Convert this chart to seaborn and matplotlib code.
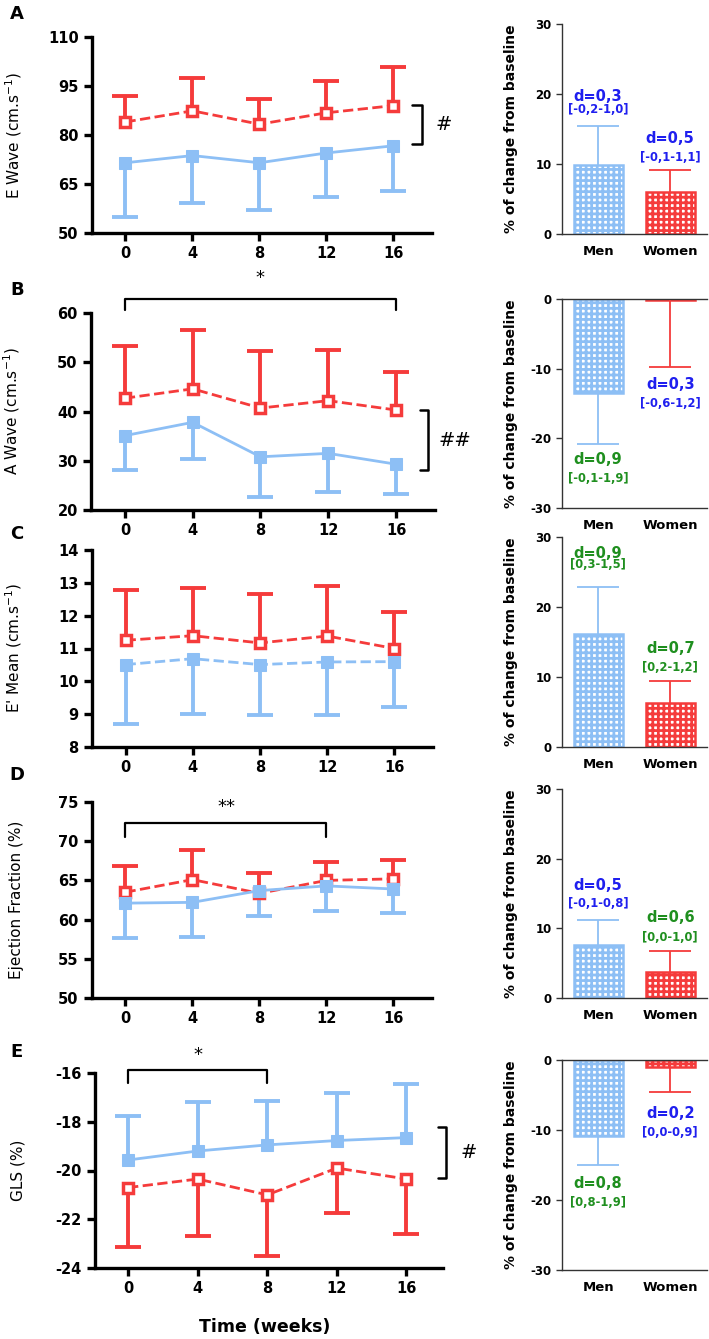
import matplotlib
matplotlib.use('Agg')
import matplotlib.pyplot as plt
import seaborn as sns
import numpy as np

sns.set_style('ticks')
plt.rcParams['font.family'] = ['DejaVu Sans']
plt.rcParams['hatch.linewidth'] = 2.0
plt.rcParams['axes.unicode_minus'] = False
for k in ['text.color', 'axes.labelcolor', 'xtick.color', 'ytick.color']:
    plt.rcParams[k] = 'black'

BLUE = '#8dbff5'
RED = '#f53b3b'
TXT_BLUE = '#1f1fef'
TXT_GREEN = '#1f8f1f'

weeks = [0, 4, 8, 12, 16]
groups = ['Men', 'Women']

# A - E wave
ew_men = [71.5, 73.7, 71.5, 74.5, 76.7]
ew_men_sd = [16.7, 14.6, 14.4, 13.6, 13.8]
ew_women = [84.0, 87.4, 83.3, 86.8, 89.0]
ew_women_sd = [8.0, 10.2, 7.7, 9.8, 11.7]
# B - A wave
aw_men = [35.1, 37.8, 30.8, 31.5, 29.3]
aw_men_sd = [7.0, 7.5, 8.2, 7.9, 6.1]
aw_women = [42.7, 44.6, 40.7, 42.2, 40.3]
aw_women_sd = [10.5, 12.0, 11.5, 10.3, 7.8]
# C - E' mean
em_men = [10.51, 10.69, 10.51, 10.59, 10.6]
em_men_sd = [1.82, 1.69, 1.54, 1.62, 1.38]
em_women = [11.25, 11.39, 11.17, 11.38, 11.0]
em_women_sd = [1.53, 1.44, 1.48, 1.53, 1.12]
# D - ejection fraction
ef_men = [62.1, 62.2, 63.7, 64.3, 63.9]
ef_men_sd = [4.5, 4.4, 3.2, 3.2, 3.0]
ef_women = [63.5, 65.1, 63.35, 65.0, 65.2]
ef_women_sd = [3.3, 3.8, 2.55, 2.3, 2.4]
# E - GLS
gls_men = [-19.57, -19.2, -18.95, -18.77, -18.65]
gls_men_sd = [1.79, 2.0, 1.81, 1.95, 2.2]
gls_women = [-20.7, -20.35, -21.0, -19.9, -20.35]
gls_women_sd = [2.43, 2.35, 2.52, 1.86, 2.25]

# % change from baseline (Men, Women)
chg_ew = [9.9, 5.95]
chg_ew_err = [5.5, 3.15]
chg_aw = [-13.5, -0.2]
chg_aw_err = [7.3, 9.5]
chg_em = [16.1, 6.3]
chg_em_err = [6.7, 3.2]
chg_ef = [7.65, 3.7]
chg_ef_err = [3.5, 3.1]
chg_gls = [-10.9, -0.95]
chg_gls_err = [4.1, 3.55]

W, H = 709, 1339
fig = plt.figure(figsize=(W / 100, H / 100), dpi=100)


def box(l, r, t, b):
    return [l / W, 1 - b / H, (r - l) / W, (b - t) / H]


def one_side(ax, x, y, sd, up, color, **kw):
    sd = np.asarray(sd, dtype=float)
    z = np.zeros(len(sd))
    eb = ax.errorbar(x, y, yerr=[z, sd] if up else [sd, z], fmt='none',
                     ecolor=color, **kw)
    eb[1][0 if up else 1].set_visible(False)


def time_panel(rect, men, men_sd, women, women_sd, ylim, yticks, ylabel,
               men_up=False, men_ls='-'):
    ax = fig.add_axes(rect)
    one_side(ax, weeks, women, women_sd, not men_up, RED, elinewidth=2.8,
             capsize=9.5, capthick=2.8, zorder=2)
    one_side(ax, weeks, men, men_sd, men_up, BLUE, elinewidth=2.8,
             capsize=9.5, capthick=2.8, zorder=2)
    sns.lineplot(x=weeks, y=women, ax=ax, color=RED, marker='s',
                 markersize=7.8, markerfacecolor='white',
                 markeredgecolor=RED, markeredgewidth=2.5,
                 linestyle='--', linewidth=2, zorder=3)
    sns.lineplot(x=weeks, y=men, ax=ax, color=BLUE, marker='s',
                 markersize=8.5, markeredgecolor=BLUE, linestyle=men_ls,
                 linewidth=2, zorder=4)
    ax.set_xlim(-2, 18.3)
    ax.set_ylim(*ylim)
    ax.set_xticks(weeks)
    ax.set_yticks(yticks)
    ax.set_ylabel(ylabel, fontsize=11)
    ax.yaxis.set_label_coords(-0.2, 0.5)
    sns.despine(ax=ax)
    for s in ['left', 'bottom']:
        ax.spines[s].set_linewidth(2.4)
        ax.spines[s].set_color('black')
    ax.tick_params(width=2.4, length=6, labelsize=10.5, color='black')
    for lab in ax.get_xticklabels() + ax.get_yticklabels():
        lab.set_fontweight('bold')
    return ax


def side_bracket(ax, x0, x1, ytop, ybot, xt, label):
    ax.plot([x0, x1, x1, x0], [ytop, ytop, ybot, ybot], color='black',
            lw=1.8, clip_on=False)
    ax.text(xt, (ytop + ybot) / 2, label, fontsize=14, ha='center',
            va='center')


def top_bracket(ax, xa, xb, yline, ytick, ystar, label):
    ax.plot([xa, xa, xb, xb], [ytick, yline, yline, ytick], color='black',
            lw=1.6, clip_on=False)
    ax.text((xa + xb) / 2, ystar, label, fontsize=13, ha='center',
            va='center')


def change_panel(rect, vals, errs, ann):
    ax = fig.add_axes(rect)
    neg = vals[0] < 0
    sns.barplot(x=groups, y=vals, hue=groups, palette=[BLUE, RED],
                width=0.68, errorbar=None, legend=False, ax=ax, zorder=2)
    for p, c in zip(ax.patches, [BLUE, RED]):
        p.set_facecolor('white')
        p.set_edgecolor(c)
        p.set_hatch('+++')
        p.set_linewidth(1.8)
    for i, c in enumerate([BLUE, RED]):
        one_side(ax, [i], [vals[i]], [errs[i]], not neg, c, elinewidth=1.3,
                 capsize=15, capthick=1.3, zorder=3)
    ax.set_xlim(-0.5, 1.51)
    if neg:
        ax.set_ylim(-30, 0)
        ax.set_yticks([-30, -20, -10, 0])
    else:
        ax.set_ylim(0, 30)
        ax.set_yticks([0, 10, 20, 30])
    sns.despine(ax=ax, top=not neg)
    for s in ['left', 'bottom', 'top']:
        ax.spines[s].set_linewidth(1.0)
        ax.spines[s].set_color('#333333')
    ax.tick_params(axis='y', width=1, length=4, labelsize=8.5,
                   color='#333333')
    ax.tick_params(axis='x', length=0, labelsize=9.5, pad=8)
    for lab in ax.get_xticklabels() + ax.get_yticklabels():
        lab.set_fontweight('bold')
    ax.set_xlabel('')
    ax.set_ylabel('% of change from baseline', fontsize=10,
                  fontweight='bold')
    ax.yaxis.set_label_coords(-0.30, 0.5)
    for x, yd, yb, d, ci, col in ann:
        ax.text(x, yd, d, color=col, fontsize=10.5, fontweight='bold',
                ha='center', va='baseline')
        ax.text(x, yb, ci, color=col, fontsize=8.3, fontweight='bold',
                ha='center', va='baseline')
    return ax


# ---- left column ----
axA = time_panel(box(92, 432, 37, 233), ew_men, ew_men_sd, ew_women,
                 ew_women_sd, (50, 110), [50, 65, 80, 95, 110],
                 'E Wave (cm.s$^{-1}$)')
side_bracket(axA, 17.1, 17.7, 89.2, 77.3, 19.0, '#')

axB = time_panel(box(91, 435, 313, 510), aw_men, aw_men_sd, aw_women,
                 aw_women_sd, (20, 60), [20, 30, 40, 50, 60],
                 'A Wave (cm.s$^{-1}$)')
side_bracket(axB, 17.4, 17.9, 40.3, 28.1, 19.5, '##')
top_bracket(axB, 0, 16, 62.8, 60.6, 67.1, '*')

axC = time_panel(box(92, 433, 550, 747), em_men, em_men_sd, em_women,
                 em_women_sd, (8, 14), [8, 9, 10, 11, 12, 13, 14],
                 "E' Mean (cm.s$^{-1}$)", men_ls='--')

axD = time_panel(box(92, 432, 802, 998), ef_men, ef_men_sd, ef_women,
                 ef_women_sd, (50, 75), [50, 55, 60, 65, 70, 75],
                 'Ejection Fraction (%)')
top_bracket(axD, 0, 12, 72.3, 70.5, 74.4, '**')

axE = time_panel(box(95, 443, 1073, 1268), gls_men, gls_men_sd, gls_women,
                 gls_women_sd, (-24, -16), [-24, -22, -20, -18, -16],
                 'GLS (%)', men_up=True)
axE.set_xlim(-1.9, 18.1)
side_bracket(axE, 17.8, 18.3, -18.2, -20.3, 19.6, '#')
top_bracket(axE, 0, 8, -15.88, -16.41, -15.26, '*')

fig.text(265 / W, 1 - 1327 / H, 'Time (weeks)', fontsize=12.5,
         fontweight='bold', ha='center', va='center')

# ---- right column ----
change_panel(box(562, 707, 24, 234), chg_ew, chg_ew_err,
             [(0, 18.95, 17.35, 'd=0,3', '[-0,2-1,0]', TXT_BLUE),
              (1, 12.95, 10.45, 'd=0,5', '[-0,1-1,1]', TXT_BLUE)])
change_panel(box(562, 707, 299, 508), chg_aw, chg_aw_err,
             [(0, -23.75, -26.25, 'd=0,9', '[-0,1-1,9]', TXT_GREEN),
              (1, -12.85, -15.45, 'd=0,3', '[-0,6-1,2]', TXT_BLUE)])
change_panel(box(562, 707, 537, 747), chg_em, chg_em_err,
             [(0, 27.05, 25.55, 'd=0,9', '[0,3-1,5]', TXT_GREEN),
              (1, 13.45, 10.85, 'd=0,7', '[0,2-1,2]', TXT_GREEN)])
change_panel(box(562, 707, 789, 998), chg_ef, chg_ef_err,
             [(0, 15.55, 13.05, 'd=0,5', '[-0,1-0,8]', TXT_BLUE),
              (1, 10.95, 8.25, 'd=0,6', '[0,0-1,0]', TXT_GREEN)])
change_panel(box(562, 707, 1060, 1270), chg_gls, chg_gls_err,
             [(0, -18.25, -20.85, 'd=0,8', '[0,8-1,9]', TXT_GREEN),
              (1, -8.25, -10.85, 'd=0,2', '[0,0-0,9]', TXT_BLUE)])

# panel letters
for letter, y in zip('ABCDE', [14, 290, 534, 775, 1052]):
    fig.text(17 / W, 1 - y / H, letter, fontsize=13, fontweight='bold',
             ha='center', va='center')

fig.savefig('out.png', dpi=100)
